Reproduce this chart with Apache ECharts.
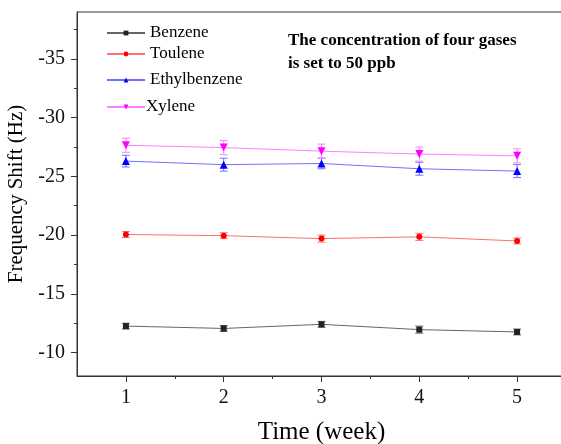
<!DOCTYPE html>
<html>
<head>
<meta charset="utf-8">
<script src="https://cdn.jsdelivr.net/npm/echarts@6/dist/echarts.min.js"></script>
<style>
  html, body { margin: 0; padding: 0; background: #fff; }
  #main { width: 561px; height: 444px; }
</style>
</head>
<body>
<div id="main"></div>
<script>
// data
var weeks = [1, 2, 3, 4, 5]
var benzene = [-12.25, -12.05, -12.4, -11.95, -11.75]
var toulene = [-20.05, -19.95, -19.7, -19.85, -19.5]
var ethylbenzene = [-26.3, -26.0, -26.1, -25.65, -25.45]
var xylene = [-27.65, -27.45, -27.15, -26.9, -26.75]
var benzeneErr = [0.25, 0.25, 0.25, 0.3, 0.25]
var tolueneErr = [0.25, 0.25, 0.3, 0.3, 0.25]
var ethylErr = [0.5, 0.55, 0.45, 0.55, 0.55]
var xyleneErr = [0.6, 0.6, 0.6, 0.6, 0.6]
var yLabels = [-35, -30, -25, -20, -15, -10]
var yMinor = [-37.5, -32.5, -27.5, -22.5, -17.5, -12.5]
var xMinor = [1.5, 2.5, 3.5, 4.5]

var font = 'Liberation Serif'

var element = document.querySelector('#main')
var chart = echarts.init(element)

var pairs = (vals) => vals.map((v, i) => [weeks[i], v])
var errData = (vals, errs) => vals.map((v, i) => [weeks[i], v - errs[i], v + errs[i]])

var errRender = (params, api) => {
    var x = api.value(0)
    var p1 = api.coord([x, api.value(1)])
    var p2 = api.coord([x, api.value(2)])
    var w = 4
    var style = {stroke: api.visual('color'), lineWidth: 1}
    return {
        type: 'group',
        children: [
            {type: 'line', shape: {x1: p1[0], y1: p1[1], x2: p2[0], y2: p2[1]}, style: style},
            {type: 'line', shape: {x1: p1[0] - w, y1: p1[1], x2: p1[0] + w, y2: p1[1]}, style: style},
            {type: 'line', shape: {x1: p2[0] - w, y1: p2[1], x2: p2[0] + w, y2: p2[1]}, style: style},
        ]
    }
}

var downTri = 'path://M0,0 L10,0 L5,9 Z'

var names = ['Benzene', 'Toulene', 'Ethylbenzene', 'Xylene']
var colors = ['#222222', '#ff0000', '#0000ff', '#ff00ff']
var lineColors = ['#666666', '#ff7070', '#7070ff', '#ff80ff']
var symbols = ['rect', 'circle', 'triangle', downTri]
var sizes = [6, 6, 8, 8]
var values = [benzene, toulene, ethylbenzene, xylene]
var errs = [benzeneErr, tolueneErr, ethylErr, xyleneErr]
var legendTops = [33, 54, 80, 107]

var series = []
var legends = []
for (var i = 0; i < names.length; i++) {
    series.push({
        name: names[i],
        type: 'line',
        data: pairs(values[i]),
        symbol: symbols[i],
        symbolSize: sizes[i],
        itemStyle: {color: colors[i]},
        lineStyle: {color: lineColors[i], width: 1},
        z: 3,
    })
    series.push({
        type: 'custom',
        renderItem: errRender,
        data: errData(values[i], errs[i]),
        itemStyle: {color: lineColors[i]},
        encode: {x: 0, y: [1, 2]},
        z: 2,
    })
    legends.push({
        data: [names[i]],
        left: 106,
        top: legendTops[i] - 10,
        padding: 0,
        itemWidth: 38,
        itemHeight: 6,
        itemGap: 0,
        height: 20,
        textStyle: {
            fontFamily: font, fontSize: 17, color: '#000', lineHeight: 20,
            padding: [0, 0, 0, i == 3 ? -4 : 0],
        },
    })
}

chart.setOption({
    animation: false,
    backgroundColor: '#fff',
    legend: legends,
    grid: {
        left: 77, top: 12, width: 489, bottom: 68,
        outerBoundsMode: 'none',
        show: true, borderColor: '#333', borderWidth: 1,
    },
    graphic: [
        {
            type: 'text', left: 288, top: 29,
            style: {
                text: 'The concentration of four gases\nis set to 50 ppb',
                font: 'bold 17px "Liberation Serif"', fill: '#000', lineHeight: 23,
            }
        }
    ],
    xAxis: [
        {
            type: 'value', min: 0.5, max: 5.5,
            name: 'Time (week)', nameLocation: 'middle', nameGap: 44,
            nameTextStyle: {fontFamily: font, fontSize: 25, color: '#000'},
            axisLine: {show: true, lineStyle: {color: '#333'}},
            axisTick: {show: true, length: 6, customValues: weeks, lineStyle: {color: '#333'}},
            axisLabel: {customValues: weeks, margin: 12, fontFamily: font, fontSize: 20, color: '#111'},
            splitLine: {show: false},
        },
        {
            type: 'value', min: 0.5, max: 5.5, position: 'bottom',
            axisLine: {show: false},
            axisTick: {show: true, length: 3, customValues: xMinor, lineStyle: {color: '#333'}},
            axisLabel: {show: false},
            splitLine: {show: false},
        },
    ],
    yAxis: [
        {
            type: 'value', min: -39, max: -8, inverse: true,
            name: 'Frequency Shift (Hz)', nameLocation: 'middle', nameGap: 47,
            nameTextStyle: {fontFamily: font, fontSize: 21, color: '#000'},
            axisLine: {show: true, lineStyle: {color: '#333'}},
            axisTick: {show: true, length: 6, customValues: yLabels, lineStyle: {color: '#333'}},
            axisLabel: {customValues: yLabels, margin: 12, fontFamily: font, fontSize: 20, color: '#111'},
            splitLine: {show: false},
        },
        {
            type: 'value', min: -39, max: -8, inverse: true, position: 'left',
            axisLine: {show: false},
            axisTick: {show: true, length: 3, customValues: yMinor, lineStyle: {color: '#333'}},
            axisLabel: {show: false},
            splitLine: {show: false},
        },
    ],
    series: series,
})
</script>
</body>
</html>
